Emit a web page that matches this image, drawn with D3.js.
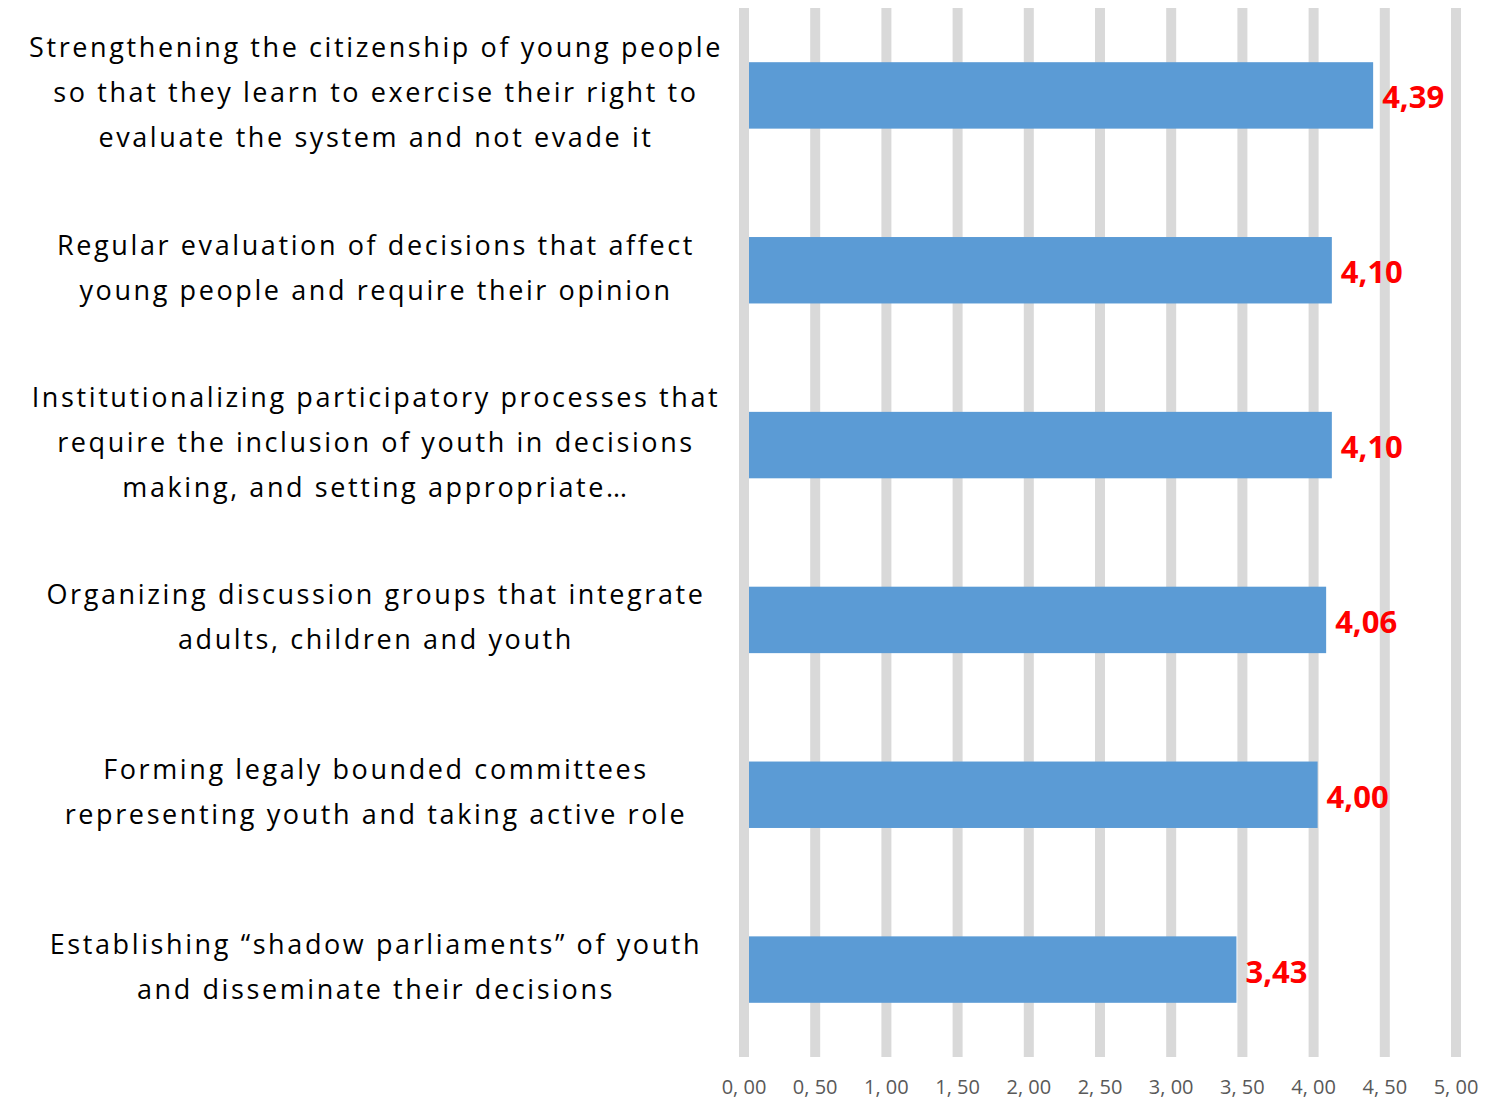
<!DOCTYPE html>
<head>
<style>
body { margin: 0; background: #fff; }
svg { font-family: "Open Sans", sans-serif; }
</style>
<script src="https://d3js.org/d3.v7.min.js"></script>
</head>
<body>
<svg id="chart" width="1488" height="1100"></svg>
<script>

// category labels, one array of lines per bar (top to bottom)
var categories = [
  ["Strengthening the citizenship of young people", "so that they learn to exercise their right to", "evaluate the system and not evade it"],
  ["Regular evaluation of decisions that affect", "young people and require their opinion"],
  ["Institutionalizing participatory processes that", "require the inclusion of youth in decisions", "making, and setting appropriate…"],
  ["Organizing discussion groups that integrate", "adults, children and youth"],
  ["Forming legaly bounded committees", "representing youth and taking active role"],
  ["Establishing “shadow parliaments” of youth", "and disseminate their decisions"]
];
var values = [4.39, 4.10, 4.10, 4.06, 4.00, 3.43];
var valueLabels = ["4,39", "4,10", "4,10", "4,06", "4,00", "3,43"];
var ticks = [0, 0.5, 1, 1.5, 2, 2.5, 3, 3.5, 4, 4.5, 5];
var tickLabels = ["0, 00", "0, 50", "1, 00", "1, 50", "2, 00", "2, 50", "3, 00", "3, 50", "4, 00", "4, 50", "5, 00"];

var svg = d3.select("#chart");

var x = d3.scaleLinear().domain([0, 5]).range([744, 1456]);
var y = d3.scaleBand()
    .domain(d3.range(categories.length))
    .range([8, 1057])
    .paddingInner(0.62)
    .paddingOuter(0.31);

// vertical grid bars
svg.append("g").selectAll("line")
    .data(ticks)
    .enter().append("line")
    .attr("x1", function(d) { return x(d); })
    .attr("x2", function(d) { return x(d); })
    .attr("y1", 8)
    .attr("y2", 1057)
    .style("stroke", "#d9d9d9")
    .style("stroke-width", 10);

// tick labels
svg.append("g").selectAll("text")
    .data(ticks)
    .enter().append("text")
    .attr("x", function(d) { return x(d); })
    .attr("y", 1094)
    .attr("text-anchor", "middle")
    .style("font-size", "20px")
    .style("fill", "#595959")
    .text(function(d, i) { return tickLabels[i]; });

// bars
svg.append("g").selectAll("rect")
    .data(values)
    .enter().append("rect")
    .attr("x", x(0) + 5)
    .attr("y", function(d, i) { return y(i); })
    .attr("width", function(d) { return x(d) - x(0) - 1; })
    .attr("height", y.bandwidth())
    .style("fill", "#5b9bd5");

// value labels
svg.append("g").selectAll("text")
    .data(values)
    .enter().append("text")
    .attr("x", function(d) { return x(d) + 13; })
    .attr("y", function(d, i) { return y(i) + y.bandwidth() / 2 + 13; })
    .style("font-size", "31px")
    .style("font-weight", "bold")
    .style("fill", "#ff0000")
    .text(function(d, i) { return valueLabels[i]; });

// category labels
var cat = svg.append("g").selectAll("text")
    .data(categories)
    .enter().append("text")
    .attr("text-anchor", "middle")
    .style("font-size", "27px")
    .style("letter-spacing", "2.6px")
    .style("fill", "#000");

cat.selectAll("tspan")
    .data(function(d, i) {
      return d.map(function(line, j) { return { line: line, j: j, n: d.length, i: i }; });
    })
    .enter().append("tspan")
    .attr("x", 376)
    .attr("y", function(d) {
      var c = y(d.i) + y.bandwidth() / 2 - 3;
      return c + (d.j - (d.n - 1) / 2) * 45 + 10;
    })
    .text(function(d) { return d.line; });

</script>
</body>
</html>
